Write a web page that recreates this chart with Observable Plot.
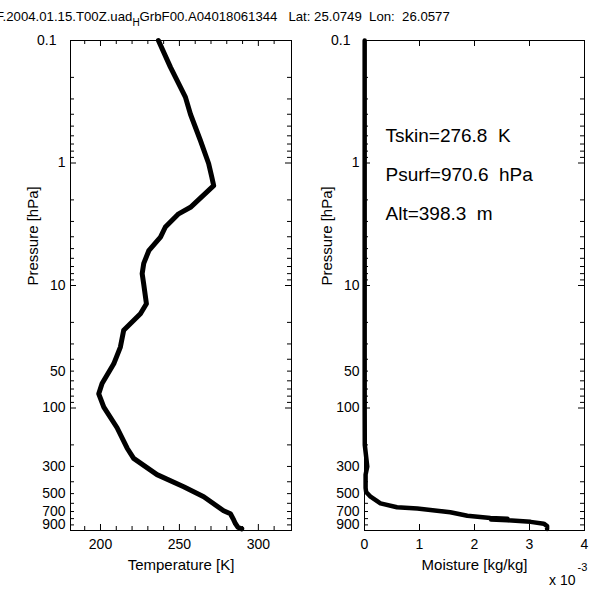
<!DOCTYPE html>
<html><head><meta charset="utf-8">
<script src="https://cdn.jsdelivr.net/npm/d3@7"></script>
<script src="https://cdn.jsdelivr.net/npm/@observablehq/plot@0.6"></script>
<style>
body{margin:0;background:#fff;}
#wrap{position:relative;width:589px;height:591px;overflow:hidden;background:#fff;font-family:"Liberation Sans",Arial,sans-serif;color:#000;}
#title{position:absolute;left:-4px;top:9px;font-size:13.2px;line-height:16px;white-space:pre;}
#title .sub{font-size:10px;position:relative;top:5px;}
#p1{position:absolute;left:0;top:0;}
#p2{position:absolute;left:294px;top:0;}
</style></head><body>
<div id="wrap"><div id="p1"></div><div id="p2"></div><div id="title">F.2004.01.15.T00Z.uad<span class="sub">H</span>GrbF00.A04018061344   Lat: 25.0749  Lon:  26.0577</div></div>
<script>
// ---- data ----
const pressureT = [0.1,0.165,0.29,0.4,0.655,1.01,1.3,1.53,2.3,2.6,3.33,4.03,5.2,6.6,8.0,9.8,14.1,17,23.2,31.8,43.6,63,76.6,98.4,145,213,258,350,440,530,690,730,820,880,940,970];
const temperature = [236.7,244.3,253.8,257,263.3,268.5,270.5,271.7,257,249.5,241.1,238,230.6,227.4,226.4,227.4,229.1,225.3,214.7,212.6,208.4,201,198.9,202.1,210.5,216.9,221,235.8,252.7,265.4,278,282.3,284.4,285.5,287,289.5];
const pressureQ = [0.1,1,10,100,200,250,300,350,450,485,530,600,646,660,710,758,790,800,815,825,850,880,920,970];
const moisture = [0.000003,0.000003,0.000003,0.000003,0.000005,0.00003,0.00005,0.00002,0.00002,0.00003,0.00011,0.00029,0.00059,0.00096,0.00156,0.00187,0.00229,0.0026,0.0023,0.0026,0.00302,0.00326,0.00332,0.00332];
const yLabelTicks = [1,10,50,100,300,500,700,900];
const yTopLabel = [0.1];
const yMajorTicks = [1,10,100];
const yMinorTicks = [0.2,0.3,0.4,0.5,0.6,0.7,0.8,0.9,2,3,4,5,6,7,8,9,20,30,40,50,60,70,80,90,200,300,400,500,600,700,800,900];
const tMajorTicks = [200,250,300];
const tMinorTicks = [190,210,220,230,240,260,270,280,290,310];
const qMajorTicks = [0,0.001,0.002,0.003,0.004];
const annotations = ["Tskin=276.8  K","Psurf=970.6  hPa","Alt=398.3  m"];

const tData = pressureT.map((p,i)=>({p, v: temperature[i]}));
const qData = pressureQ.map((p,i)=>({p, v: moisture[i]}));

const FONT = "'Liberation Sans', Arial, sans-serif";
const style = {fontFamily: FONT, fontSize: "14px", color: "#000", background: "transparent", overflow: "visible"};
const yScale = {type: "log", domain: [0.1, 1000], reverse: true};
const FRAME_H = 490;
const TICK = "#000";

function yMarks(frameW) {
  return [
    Plot.text(yLabelTicks, {y: d => d, text: d => String(d), frameAnchor: "left", dx: -5, textAnchor: "end", fontSize: 14}),
    Plot.text(yTopLabel, {y: d => d, text: d => String(d), frameAnchor: "left", dx: -14, textAnchor: "end", fontSize: 14}),
    Plot.tickY(yMajorTicks, {y: d => d, stroke: TICK, insetRight: frameW - 6}),
    Plot.tickY(yMinorTicks, {y: d => d, stroke: TICK, insetRight: frameW - 4}),
    Plot.tickY(yMajorTicks, {y: d => d, stroke: TICK, insetLeft: frameW - 6}),
    Plot.tickY(yMinorTicks, {y: d => d, stroke: TICK, insetLeft: frameW - 4}),
    Plot.text(["Pressure [hPa]"], {frameAnchor: "left", dx: -37, rotate: -90, fontSize: 15})
  ];
}
function xTicks(major, minor, format) {
  const m = [
    Plot.text(major, {x: d => d, text: format, frameAnchor: "bottom", dy: 18, fontSize: 14}),
    Plot.tickX(major, {x: d => d, stroke: TICK, insetTop: FRAME_H - 6}),
    Plot.tickX(major, {x: d => d, stroke: TICK, insetBottom: FRAME_H - 6})
  ];
  if (minor) m.push(
    Plot.tickX(minor, {x: d => d, stroke: TICK, insetTop: FRAME_H - 4}),
    Plot.tickX(minor, {x: d => d, stroke: TICK, insetBottom: FRAME_H - 4})
  );
  return m;
}

const p1 = Plot.plot({
  width: 294, height: 591,
  marginLeft: 70, marginRight: 3, marginTop: 40, marginBottom: 61,
  style,
  x: {domain: [181, 321], axis: null},
  y: {...yScale, axis: null},
  marks: [
    Plot.frame({stroke: "#000"}),
    ...yMarks(221),
    ...xTicks(tMajorTicks, tMinorTicks, d => String(d)),
    Plot.text(["Temperature [K]"], {frameAnchor: "bottom", dy: 39, fontSize: 15}),
    Plot.line(tData, {x: "v", y: "p", stroke: "#000", strokeWidth: 5, strokeLinejoin: "round", strokeLinecap: "round"})
  ]
});
document.getElementById("p1").appendChild(p1);

const p2 = Plot.plot({
  width: 295, height: 591,
  marginLeft: 70, marginRight: 5, marginTop: 40, marginBottom: 61,
  style,
  x: {domain: [0, 0.004], axis: null},
  y: {...yScale, axis: null},
  marks: [
    Plot.frame({stroke: "#000"}),
    ...yMarks(220),
    ...xTicks(qMajorTicks, null, d => String(Math.round(d * 1000))),
    Plot.text(["Moisture [kg/kg]"], {frameAnchor: "bottom", dy: 39, fontSize: 15}),
    Plot.text(["x 10"], {frameAnchor: "bottom-right", dx: -9, dy: 54, textAnchor: "end", fontSize: 14}),
    Plot.text(["-3"], {frameAnchor: "bottom-right", dx: -7, dy: 40, textAnchor: "start", fontSize: 11}),
    ...annotations.map((t, i) => Plot.text([t], {frameAnchor: "top-left", dx: 21, dy: 88 + i * 39, textAnchor: "start", fontSize: 19})),
    Plot.line(qData, {x: "v", y: "p", stroke: "#000", strokeWidth: 4.5, strokeLinejoin: "round", strokeLinecap: "round"})
  ]
});
document.getElementById("p2").appendChild(p2);
</script>
</body></html>
